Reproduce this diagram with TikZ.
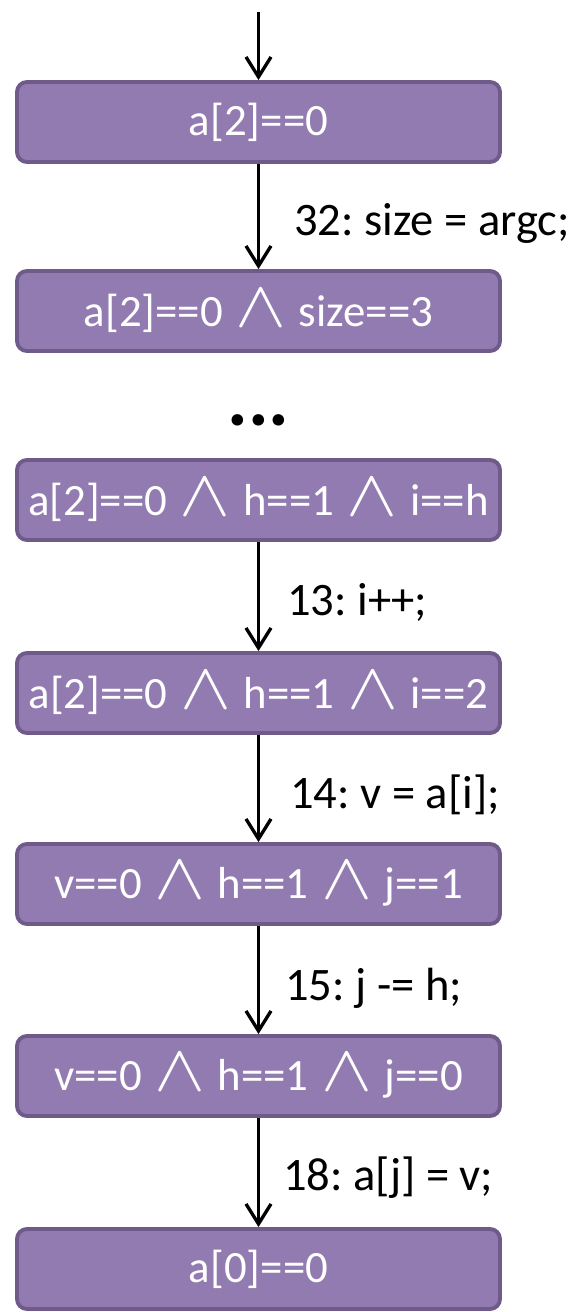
\documentclass[tikz,border=0pt]{standalone}
\usepackage{fontspec}
\usepackage{graphicx}
\setmainfont{Carlito}
\usetikzlibrary{arrows.meta, positioning}
\definecolor{boxfill}{RGB}{146,123,176}
\definecolor{boxedge}{RGB}{110,91,138}
\newcommand\andsym{\hspace{0.28em}\scalebox{1.75}[1.5]{$\wedge$}\hspace{0.28em}}
\frenchspacing

\begin{document}
\begin{tikzpicture}[
    state/.style={rectangle, draw=boxedge, fill=boxfill, line width=2.2pt, rounded corners=0.2cm, minimum width=9.66cm, minimum height=1.6cm, inner sep=0pt, text=white, font=\fontsize{25.5}{31}\selectfont},
    arrow/.style={-{Straight Barb[length=0.4cm, width=0.5cm]}, line width=1.9pt},
    lbl/.style={anchor=base west, inner sep=0pt, font=\fontsize{26.5}{32}\selectfont}
]
    \useasboundingbox (0,0) rectangle (11.74,-26.24);

    % Entry
    \coordinate (entry) at (5.17, -0.24);
    \node[state] (c1) at (5.17, -2.44) {a[2]==0};
    \draw[arrow] (entry) -- (c1);

    % Line 32
    \node[state] (c2) at (5.17, -6.22) {a[2]==0\andsym size==3};
    \draw[arrow] (c1) -- (c2);
    \node[lbl] (l32) at (5.88, -4.70) {32: size = argc;};

    % Skipped steps
    \node[font=\fontsize{44}{52}\selectfont\bfseries] (gap) at (5.17, -8.4) {...};

    % Line 13
    \node[state] (c3) at (5.17, -10.0) {a[2]==0\andsym h==1\andsym i==h};
    \node[state] (c4) at (5.17, -13.86) {a[2]==0\andsym h==1\andsym i==2};
    \draw[arrow] (c3) -- (c4);
    \node[lbl] (l13) at (5.74, -12.30) {13: i++;};

    % Line 14
    \node[state] (c5) at (5.17, -17.68) {v==0\andsym h==1\andsym j==1};
    \draw[arrow] (c4) -- (c5);
    \node[lbl] (l14) at (5.80, -16.16) {14: v = a[i];};

    % Line 15
    \node[state] (c6) at (5.17, -21.52) {v==0\andsym h==1\andsym j==0};
    \draw[arrow] (c5) -- (c6);
    \node[lbl] (l15) at (5.70, -20.0) {15: j -= h;};

    % Line 18
    \node[state] (c7) at (5.17, -25.38) {a[0]==0};
    \draw[arrow] (c6) -- (c7);
    \node[lbl] (l18) at (5.66, -23.8) {18: a[j] = v;};
\end{tikzpicture}
\end{document}
